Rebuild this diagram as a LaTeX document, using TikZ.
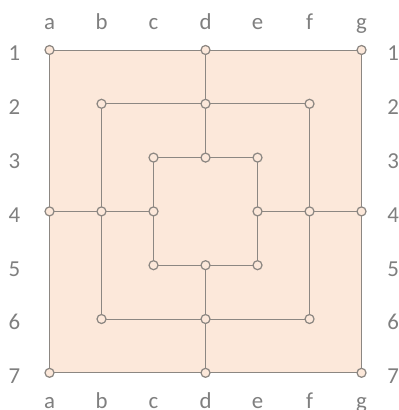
\documentclass[tikz,border=0pt]{standalone}
\usepackage{fontspec}
\setmainfont{Carlito}
\usetikzlibrary{backgrounds}
\definecolor{boardfill}{HTML}{FCE8DA}
\definecolor{boardline}{HTML}{8C8782}
\definecolor{labelgray}{HTML}{7F7F7F}

\begin{document}
\begin{tikzpicture}[
    x=1.04cm, y=-1.076cm,
    line width=0.7pt,
    spot/.style={draw=boardline, fill=boardfill, circle, inner sep=0pt, minimum size=0.18cm},
    coord/.style={text=labelgray, font=\fontsize{13}{15}\selectfont, anchor=base}
]
    \useasboundingbox (-0.952,-0.929) rectangle (6.702,6.691);

    % outer square
    \node[spot] (a1) at (0,0) {};
    \node[spot] (d1) at (3,0) {};
    \node[spot] (g1) at (6,0) {};
    \node[spot] (g4) at (6,3) {};
    \node[spot] (g7) at (6,6) {};
    \node[spot] (d7) at (3,6) {};
    \node[spot] (a7) at (0,6) {};
    \node[spot] (a4) at (0,3) {};

    % middle square
    \node[spot] (b2) at (1,1) {};
    \node[spot] (d2) at (3,1) {};
    \node[spot] (f2) at (5,1) {};
    \node[spot] (f4) at (5,3) {};
    \node[spot] (f6) at (5,5) {};
    \node[spot] (d6) at (3,5) {};
    \node[spot] (b6) at (1,5) {};
    \node[spot] (b4) at (1,3) {};

    % inner square
    \node[spot] (c3) at (2,2) {};
    \node[spot] (d3) at (3,2) {};
    \node[spot] (e3) at (4,2) {};
    \node[spot] (e4) at (4,3) {};
    \node[spot] (e5) at (4,4) {};
    \node[spot] (d5) at (3,4) {};
    \node[spot] (c5) at (2,4) {};
    \node[spot] (c4) at (2,3) {};

    \begin{scope}[on background layer]
        \fill[boardfill] (a1.center) rectangle (g7.center);
        \draw[boardline] (a1.center) -- (g1.center) -- (g7.center) -- (a7.center) -- cycle;
        \draw[boardline] (b2.center) -- (f2.center) -- (f6.center) -- (b6.center) -- cycle;
        \draw[boardline] (c3.center) -- (e3.center) -- (e5.center) -- (c5.center) -- cycle;
        \draw[boardline] (d1.center) -- (d3.center);
        \draw[boardline] (d5.center) -- (d7.center);
        \draw[boardline] (a4.center) -- (c4.center);
        \draw[boardline] (e4.center) -- (g4.center);
    \end{scope}

    % file and rank labels
    \foreach \l [count=\i from 0] in {a,b,c,d,e,f,g} {
        \node[coord] (top\l) at (\i,-0.39) {\l};
        \node[coord] (bot\l) at (\i,6.654) {\l};
    }
    \foreach \r [count=\i from 0] in {1,...,7} {
        \node[coord] (left\r) at (-0.673,\i+0.204) {\r};
        \node[coord] (right\r) at (6.606,\i+0.204) {\r};
    }
\end{tikzpicture}
\end{document}
